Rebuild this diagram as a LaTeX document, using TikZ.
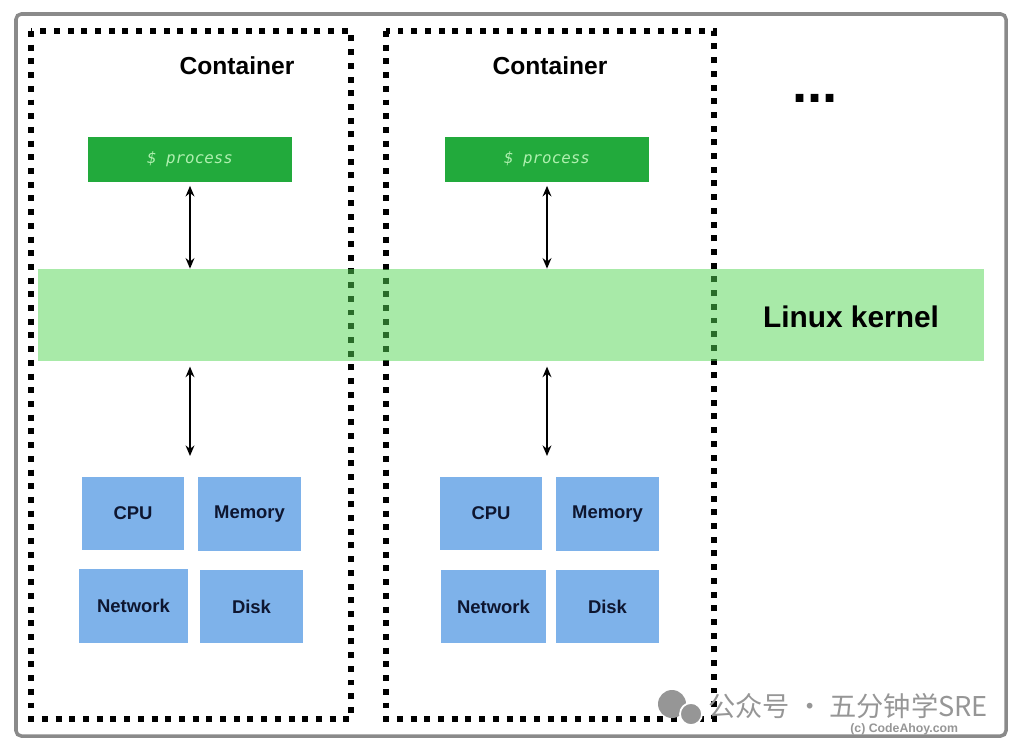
\documentclass[tikz,border=0pt]{standalone}
\usepackage{fontspec}
\setmainfont{Liberation Sans}
\setmonofont{DejaVu Sans Mono}
\newfontfamily\cjk{Noto Sans CJK SC}
\usepackage{tikz}
\usetikzlibrary{arrows.meta}

\definecolor{framegray}{RGB}{138,138,138}
\definecolor{procgreen}{RGB}{34,170,60}
\definecolor{proctext}{RGB}{175,240,175}
\definecolor{kernelgreen}{RGB}{82,214,82}
\definecolor{resblue}{RGB}{126,178,234}
\definecolor{restext}{RGB}{14,22,48}
\definecolor{markgray}{RGB}{150,150,150}

\tikzset{
  container/.style={draw=black, line width=3.4pt, dash pattern=on 3.4pt off 4.4pt},
  procbox/.style={fill=procgreen, minimum width=4.1cm, minimum height=0.9cm,
    text=proctext, font=\ttfamily\itshape\fontsize{9}{9}\selectfont},
  resbox/.style={fill=resblue, minimum width=2.06cm, minimum height=1.47cm,
    text=restext, font=\bfseries\fontsize{10.5}{10.5}\selectfont},
  title/.style={font=\bfseries\fontsize{14}{14}\selectfont},
  link/.style={<->, >={Stealth[length=6pt,width=5pt]}, line width=1pt}
}

\begin{document}
\begin{tikzpicture}[x=0.02cm, y=-0.02cm]
\useasboundingbox (0,0) rectangle (1024,751);
\draw[framegray, line width=2pt, rounded corners=3pt] (16,14) rectangle (1006,736);

\draw[container] (31,31) rectangle (351,719);
\draw[container] (386,31) rectangle (714,719);

\node[title] (title1) at (237,66) {Container};
\node[title] (title2) at (550,66) {Container};
\node[font=\bfseries\fontsize{31}{31}\selectfont, anchor=base] (more) at (815,102) {...};

\node[fill=kernelgreen, fill opacity=0.5, minimum width=18.92cm, minimum height=1.84cm] (kernel) at (511,315) {};
\node[font=\bfseries\fontsize{17}{17}\selectfont] (kerneltxt) at (851,317) {Linux kernel};

\node[procbox] (proc1) at (190,159.5) {\$ process};
\node[procbox] (proc2) at (547,159.5) {\$ process};

\draw[link, shorten <=2pt] (proc1.south) -- (proc1.south |- kernel.north);
\draw[link, shorten <=2pt] (proc2.south) -- (proc2.south |- kernel.north);

\coordinate (res1) at (190,456);
\coordinate (res2) at (547,456);
\draw[link, shorten <=3pt] (kernel.south -| res1) -- (res1);
\draw[link, shorten <=3pt] (kernel.south -| res2) -- (res2);

\node[resbox] (cpu1) at (133,513.5) {CPU};
\node[resbox] (mem1) at (249.5,514) {Memory};
\node[resbox, minimum width=2.18cm] (net1) at (133.5,606) {Network};
\node[resbox] (disk1) at (251.5,606.5) {Disk};

\node[resbox] (cpu2) at (491,513.5) {CPU};
\node[resbox] (mem2) at (607.5,514) {Memory};
\node[resbox, minimum width=2.1cm] (net2) at (493.5,606.5) {Network};
\node[resbox] (disk2) at (607.5,606.5) {Disk};

\fill[markgray] (672,704) circle (14);
\fill[markgray, draw=white, line width=1pt] (691,714) circle (11);
\node[markgray, inner sep=0pt, font=\cjk\fontsize{15.5}{15.5}\selectfont, anchor=west] (mark) at (708,706) {公众号 · 五分钟学SRE};
\node[markgray, inner sep=0pt, font=\bfseries\fontsize{7}{7}\selectfont, anchor=west] (codeahoy) at (850,729) {(c) CodeAhoy.com};
\end{tikzpicture}
\end{document}
